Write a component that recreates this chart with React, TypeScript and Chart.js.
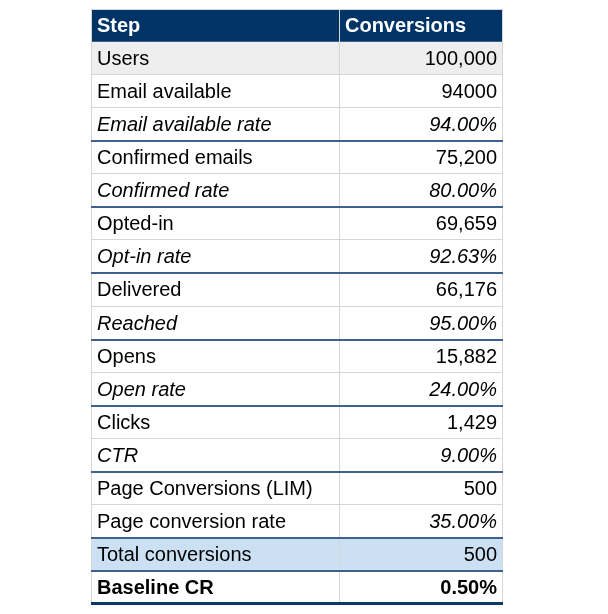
import { useEffect, useRef } from "react";
import { Chart, registerables } from "chart.js";

Chart.register(...registerables);

// ---- data ----
const headers = ["Step", "Conversions"];
const steps = [
  "Users",
  "Email available",
  "Email available rate",
  "Confirmed emails",
  "Confirmed rate",
  "Opted-in",
  "Opt-in rate",
  "Delivered",
  "Reached",
  "Opens",
  "Open rate",
  "Clicks",
  "CTR",
  "Page Conversions (LIM)",
  "Page conversion rate",
  "Total conversions",
  "Baseline CR",
];
const values = [
  "100,000",
  "94000",
  "94.00%",
  "75,200",
  "80.00%",
  "69,659",
  "92.63%",
  "66,176",
  "95.00%",
  "15,882",
  "24.00%",
  "1,429",
  "9.00%",
  "500",
  "35.00%",
  "500",
  "0.50%",
];

// ---- style (kept apart from data) ----
const italicStepRows = [2, 4, 6, 8, 10, 12];
const italicValueRows = [2, 4, 6, 8, 10, 12, 14];
const boldRows = [16];
const groupEndRows = [2, 4, 6, 8, 10, 12, 14, 15];
const greyRows = [0];
const blueRows = [15];

const NAVY = "#003366";
const SEP_BLUE = "#3f6190";
const GRID_GREY = "#d6d6d6";
const FONT = '"Liberation Sans", Arial, sans-serif';
const FONT_SIZE = 20;
const COL_SPLIT = 0.6034;

export default function App() {
  const ref = useRef<HTMLCanvasElement>(null);

  useEffect(() => {
    if (!ref.current) return;
    const rows = [headers[0], ...steps];
    const bg = rows.map((_, i) => {
      if (i === 0) return NAVY;
      const d = i - 1;
      if (greyRows.includes(d)) return "#eeeeee";
      if (blueRows.includes(d)) return "#cbe0f2";
      return "#ffffff";
    });

    const tablePlugin = {
      id: "tableDraw",
      afterDatasetsDraw(chart: any) {
        const { ctx, chartArea: a, scales } = chart;
        const x = scales.x;
        const y = scales.y;
        const h = Math.abs(y.getPixelForValue(1) - y.getPixelForValue(0));
        const topOf = (i: number) => y.getPixelForValue(i) - h / 2;
        const xl = x.getPixelForValue(0);
        const xm = x.getPixelForValue(COL_SPLIT);
        const xr = x.getPixelForValue(1);
        const crisp = (v: number) => Math.round(v) + 0.5;

        ctx.save();
        // vertical grid lines
        ctx.strokeStyle = GRID_GREY;
        ctx.lineWidth = 1;
        [xl, xm, xr].forEach((xv) => {
          ctx.beginPath();
          ctx.moveTo(crisp(xv), a.top);
          ctx.lineTo(crisp(xv), a.bottom);
          ctx.stroke();
        });
        // top line
        ctx.beginPath();
        ctx.moveTo(xl, crisp(a.top));
        ctx.lineTo(xr + 1, crisp(a.top));
        ctx.stroke();

        // horizontal separators
        for (let i = 2; i < rows.length; i++) {
          const yy = topOf(i);
          const above = i - 2;
          if (groupEndRows.includes(above)) {
            ctx.fillStyle = SEP_BLUE;
            ctx.fillRect(xl, Math.round(yy) - 1, xr - xl + 1, 2);
          } else {
            ctx.strokeStyle = GRID_GREY;
            ctx.lineWidth = 1;
            ctx.beginPath();
            ctx.moveTo(xl, crisp(yy) - 1);
            ctx.lineTo(xr + 1, crisp(yy) - 1);
            ctx.stroke();
          }
        }
        // bottom thick border
        ctx.fillStyle = "#0b3868";
        ctx.fillRect(xl, Math.round(a.bottom) - 2, xr - xl + 1, 3);

        // header text
        ctx.textBaseline = "middle";
        ctx.fillStyle = "#ffffff";
        ctx.font = `bold ${FONT_SIZE}px ${FONT}`;
        ctx.textAlign = "left";
        const hy = y.getPixelForValue(0) + 1;
        ctx.fillText(headers[0], xl + 6, hy);
        ctx.fillText(headers[1], xm + 6, hy);

        // body text
        ctx.fillStyle = "#000000";
        for (let d = 0; d < steps.length; d++) {
          const cy = y.getPixelForValue(d + 1) + 1;
          const bold = boldRows.includes(d) ? "bold " : "";
          ctx.textAlign = "left";
          ctx.font = `${italicStepRows.includes(d) ? "italic " : ""}${bold}${FONT_SIZE}px ${FONT}`;
          ctx.fillText(steps[d], xl + 6, cy);
          ctx.textAlign = "right";
          ctx.font = `${italicValueRows.includes(d) ? "italic " : ""}${bold}${FONT_SIZE}px ${FONT}`;
          ctx.fillText(values[d], xr - 5, cy);
        }
        ctx.restore();
      },
    };

    const chart = new Chart(ref.current, {
      type: "bar",
      data: {
        labels: rows,
        datasets: [
          {
            data: rows.map(() => [0, 1]) as any,
            backgroundColor: bg,
            borderWidth: 0,
            barPercentage: 1,
            categoryPercentage: 1,
          },
        ],
      },
      options: {
        indexAxis: "y",
        responsive: false,
        animation: false,
        layout: { padding: { left: 83, right: 98, top: 1, bottom: 10 } },
        plugins: { legend: { display: false }, tooltip: { enabled: false } },
        scales: {
          x: { type: "linear", min: 0, max: 1, display: false },
          y: { type: "category", display: false },
        },
      },
      plugins: [tablePlugin],
    });
    return () => chart.destroy();
  }, []);

  return <canvas ref={ref} width={592} height={606} style={{ display: "block" }} />;
}
